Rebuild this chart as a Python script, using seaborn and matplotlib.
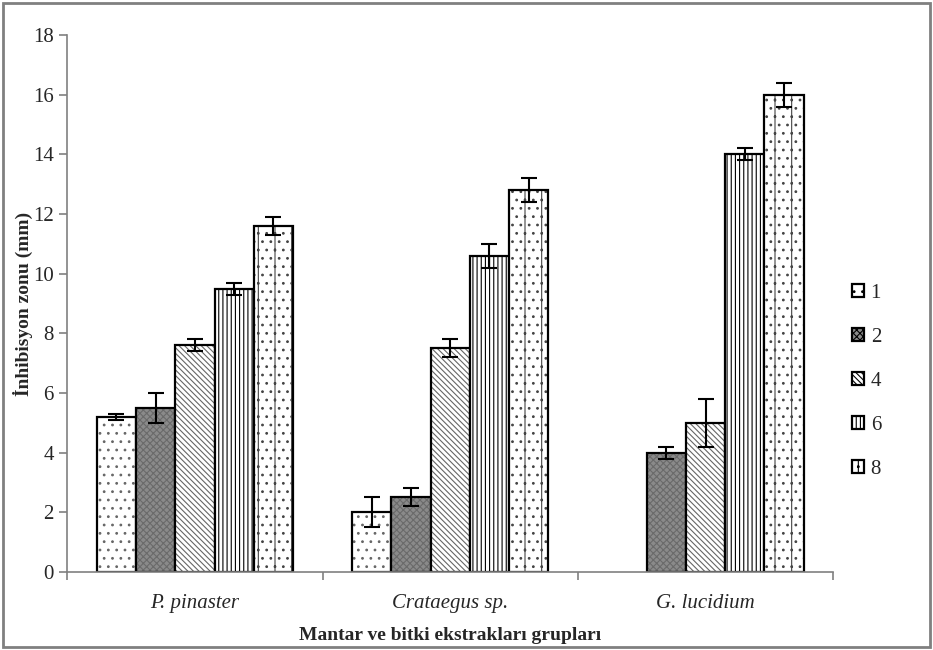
import numpy as np
import pandas as pd
import matplotlib.pyplot as plt
import matplotlib.colors as mcolors
import seaborn as sns

groups = ['P. pinaster', 'Crataegus sp.', 'G. lucidium']
doses = ['1', '2', '4', '6', '8']
# values per dose, in group order
val_1 = [5.2, 2.0, 0.0]
val_2 = [5.5, 2.5, 4.0]
val_4 = [7.6, 7.5, 5.0]
val_6 = [9.5, 10.6, 14.0]
val_8 = [11.6, 12.8, 16.0]
err_1 = [0.1, 0.5, 0.0]
err_2 = [0.5, 0.3, 0.2]
err_4 = [0.2, 0.3, 0.8]
err_6 = [0.2, 0.4, 0.2]
err_8 = [0.3, 0.4, 0.4]

vals = [val_1, val_2, val_4, val_6, val_8]
errs = [err_1, err_2, err_4, err_6, err_8]
rows = []
for d, v, e in zip(doses, vals, errs):
    for g, vv, ee in zip(groups, v, e):
        rows.append({'grup': g, 'doz': d, 'deger': vv, 'hata': ee})
df = pd.DataFrame(rows)

sns.set_style('white')
plt.rcParams['font.family'] = ['Liberation Serif', 'DejaVu Serif']
plt.rcParams['hatch.linewidth'] = 0.8

fig = plt.figure(figsize=(9.33, 6.5), dpi=100)
ax = fig.add_axes([0.072, 0.12, 0.821, 0.826])

sns.barplot(data=df, x='grup', y='deger', hue='doz', order=groups, hue_order=doses,
            errorbar=None, width=0.77, gap=0, ax=ax, saturation=1)

faces = ['white', '#8a8a8a', 'white', 'white', 'white']
hatches = ['..', 'xxxxx', '\\\\\\\\\\\\', '||||', '.|.']
hcolors = ['#666666', '#6a6a6a', '#666666', 'black', '#444444']

bar_conts = list(ax.containers)
for i, cont in enumerate(bar_conts):
    for bar in cont:
        j = int(round(bar.get_x() + bar.get_width() / 2))
        bar.set_facecolor(faces[i])
        bar.set_hatch(hatches[i])
        bar.set_edgecolor('black')
        bar.set_linewidth(1.6)
        bar._hatch_color = mcolors.to_rgba(hcolors[i])
        v = vals[i][j]
        if v == 0:
            bar.set_visible(False)
            continue
        ax.errorbar(bar.get_x() + bar.get_width() / 2, v, yerr=errs[i][j],
                    fmt='none', ecolor='black', elinewidth=1.5, capsize=6, capthick=1.5)

ax.set_ylim(0, 18)
ax.set_yticks(range(0, 19, 2))
ax.set_xlim(-0.5, 2.5)
ax.set_xticks([-0.5, 0.5, 1.5, 2.5], minor=False)
ax.set_xticklabels([])
ax.set_xticks([0, 1, 2], minor=True)
ax.set_xticklabels(groups, minor=True, style='italic', fontsize=15)
ax.tick_params(axis='x', which='major', direction='out', length=6, color='#808080', width=1.2)
ax.tick_params(axis='x', which='minor', length=0, pad=16)
ax.tick_params(axis='y', direction='out', length=6, color='#808080', width=1.2, labelsize=15)
ax.tick_params(left=True, bottom=True)

for s in ['top', 'right']:
    ax.spines[s].set_visible(False)
for s in ['left', 'bottom']:
    ax.spines[s].set_color('#808080')
    ax.spines[s].set_linewidth(1.2)

ax.set_xlabel('Mantar ve bitki ekstrakları grupları', fontsize=14, fontweight='bold', labelpad=10)
ax.set_ylabel('İnhibisyon zonu (mm)', fontsize=14, fontweight='bold', labelpad=0)

leg = ax.legend(loc='center left', bbox_to_anchor=(1.0, 0.355), frameon=False, fontsize=15,
                handlelength=0.6, handleheight=0.6, labelspacing=1.2, handletextpad=0.3)
for i, h in enumerate(leg.legend_handles):
    h.set_linewidth(1.6)
    h.set_edgecolor('black')
    h.set_facecolor(faces[i])
    h.set_hatch(hatches[i])

fig.patches.append(plt.Rectangle((0.003, 0.004), 0.994, 0.992, transform=fig.transFigure,
                                 fill=False, edgecolor='#808080', linewidth=2))

fig.savefig('out.png', dpi=100)
